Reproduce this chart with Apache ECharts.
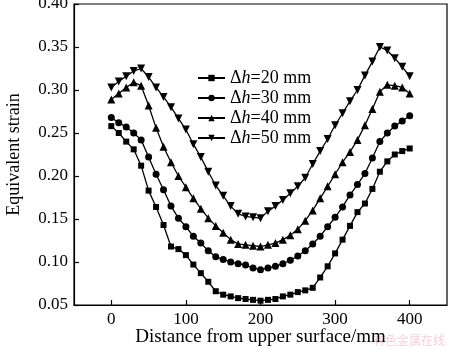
<!DOCTYPE html>
<html>
<head>
<meta charset="utf-8">
<script src="https://cdn.jsdelivr.net/npm/echarts@6/dist/echarts.min.js"></script>
<style>html,body{margin:0;padding:0;background:#fff}#c{width:450px;height:349px}</style>
</head>
<body>
<div id="c"></div>
<script>
const xValues = [0,10,20,30,40,50,60,70,80,90,100,110,120,130,140,150,160,170,180,190,200,210,220,230,240,250,260,270,280,290,300,310,320,330,340,350,360,370,380,390,400];
const seriesNames = ['20', '30', '40', '50'];
const dh20 = [0.258,0.250,0.240,0.231,0.212,0.183,0.164,0.143,0.118,0.115,0.108,0.097,0.087,0.077,0.066,0.062,0.060,0.058,0.057,0.056,0.055,0.056,0.057,0.060,0.062,0.065,0.067,0.070,0.082,0.095,0.110,0.126,0.142,0.158,0.168,0.185,0.205,0.217,0.225,0.229,0.232];
const dh30 = [0.268,0.262,0.257,0.250,0.242,0.222,0.202,0.184,0.165,0.151,0.141,0.130,0.122,0.113,0.106,0.103,0.100,0.098,0.0965,0.093,0.091,0.093,0.095,0.098,0.102,0.107,0.113,0.121,0.130,0.141,0.152,0.164,0.178,0.190,0.203,0.221,0.240,0.250,0.258,0.264,0.270];
const dh40 = [0.289,0.296,0.303,0.309,0.305,0.282,0.256,0.234,0.216,0.200,0.187,0.174,0.162,0.151,0.142,0.134,0.126,0.121,0.120,0.119,0.118,0.120,0.122,0.126,0.131,0.138,0.148,0.160,0.174,0.188,0.202,0.216,0.228,0.242,0.259,0.278,0.298,0.306,0.305,0.303,0.296];
const dh50 = [0.303,0.310,0.316,0.322,0.325,0.315,0.303,0.292,0.280,0.267,0.254,0.237,0.222,0.205,0.189,0.177,0.165,0.156,0.153,0.152,0.151,0.159,0.165,0.172,0.180,0.188,0.198,0.214,0.229,0.243,0.259,0.273,0.287,0.300,0.317,0.333,0.350,0.346,0.337,0.327,0.316];
const xTicks = [0,100,200,300,400];

const FONT = 'Liberation Serif';
const allData = [dh20, dh30, dh40, dh50];
const symbols = ['rect', 'circle', 'triangle', 'triangle'];
const symSizes = [6, 7, 8, 8];
const symRot = [0, 0, 0, 180];

const chart = echarts.init(document.getElementById('c'), null, {renderer: 'canvas'});
const series = seriesNames.map((n, i) => ({
  name: n,
  type: 'line',
  data: xValues.map((x, j) => [x, allData[i][j]]),
  symbol: symbols[i],
  symbolSize: symSizes[i],
  symbolRotate: symRot[i],
  showAllSymbol: true,
  lineStyle: {color: '#000', width: 1.3},
  itemStyle: {color: '#000'},
  animation: false
}));

chart.setOption({
  animation: false,
  grid: {left: 74, right: 3, top: 4, bottom: 44, outerBoundsMode: 'none', containLabel: false, show: true, borderColor: '#000', borderWidth: 1.2, backgroundColor: 'transparent'},
  legend: {
    orient: 'vertical',
    left: 192,
    top: 64,
    itemWidth: 27,
    itemHeight: 8,
    itemGap: 2,
    data: seriesNames,
    formatter: (n) => '{a|\u0394}{b|h}{a|=' + n + ' mm}',
    textStyle: {
      fontFamily: FONT, fontSize: 18, color: '#000',
      rich: {
        a: {fontFamily: FONT, fontSize: 18, color: '#000'},
        b: {fontFamily: FONT, fontSize: 18, color: '#000', fontStyle: 'italic'}
      }
    }
  },
  xAxis: {
    type: 'value', min: -50, max: 450,
    name: 'Distance from upper surface/mm',
    nameLocation: 'middle', nameGap: 23, nameMoveOverlap: false,
    nameTextStyle: {fontFamily: FONT, fontSize: 19, color: '#000'},
    axisLine: {show: true, onZero: false, lineStyle: {color: '#000', width: 1.2}},
    axisTick: {show: true, inside: true, length: 5, customValues: xTicks, lineStyle: {color: '#000', width: 1.2}},
    axisLabel: {customValues: xTicks, fontFamily: FONT, fontSize: 17, color: '#000', margin: 6},
    splitLine: {show: false}
  },
  yAxis: {
    type: 'value', min: 0.05, max: 0.40, interval: 0.05,
    name: 'Equivalent strain',
    nameLocation: 'middle', nameGap: 51, nameMoveOverlap: false,
    nameTextStyle: {fontFamily: FONT, fontSize: 18, color: '#000'},
    axisLine: {show: true, onZero: false, lineStyle: {color: '#000', width: 1.2}},
    axisTick: {show: true, inside: true, length: 5, lineStyle: {color: '#000', width: 1.2}},
    axisLabel: {fontFamily: FONT, fontSize: 17, color: '#000', margin: 6, formatter: v => v.toFixed(2)},
    splitLine: {show: false}
  },
  graphic: [{
    type: 'text', right: 5, bottom: 3,
    style: {text: '有色金属在线', font: '12px "Noto Sans CJK SC"', fill: 'rgba(230,120,140,0.35)'}
  }],
  series: series
});
</script>
</body>
</html>
